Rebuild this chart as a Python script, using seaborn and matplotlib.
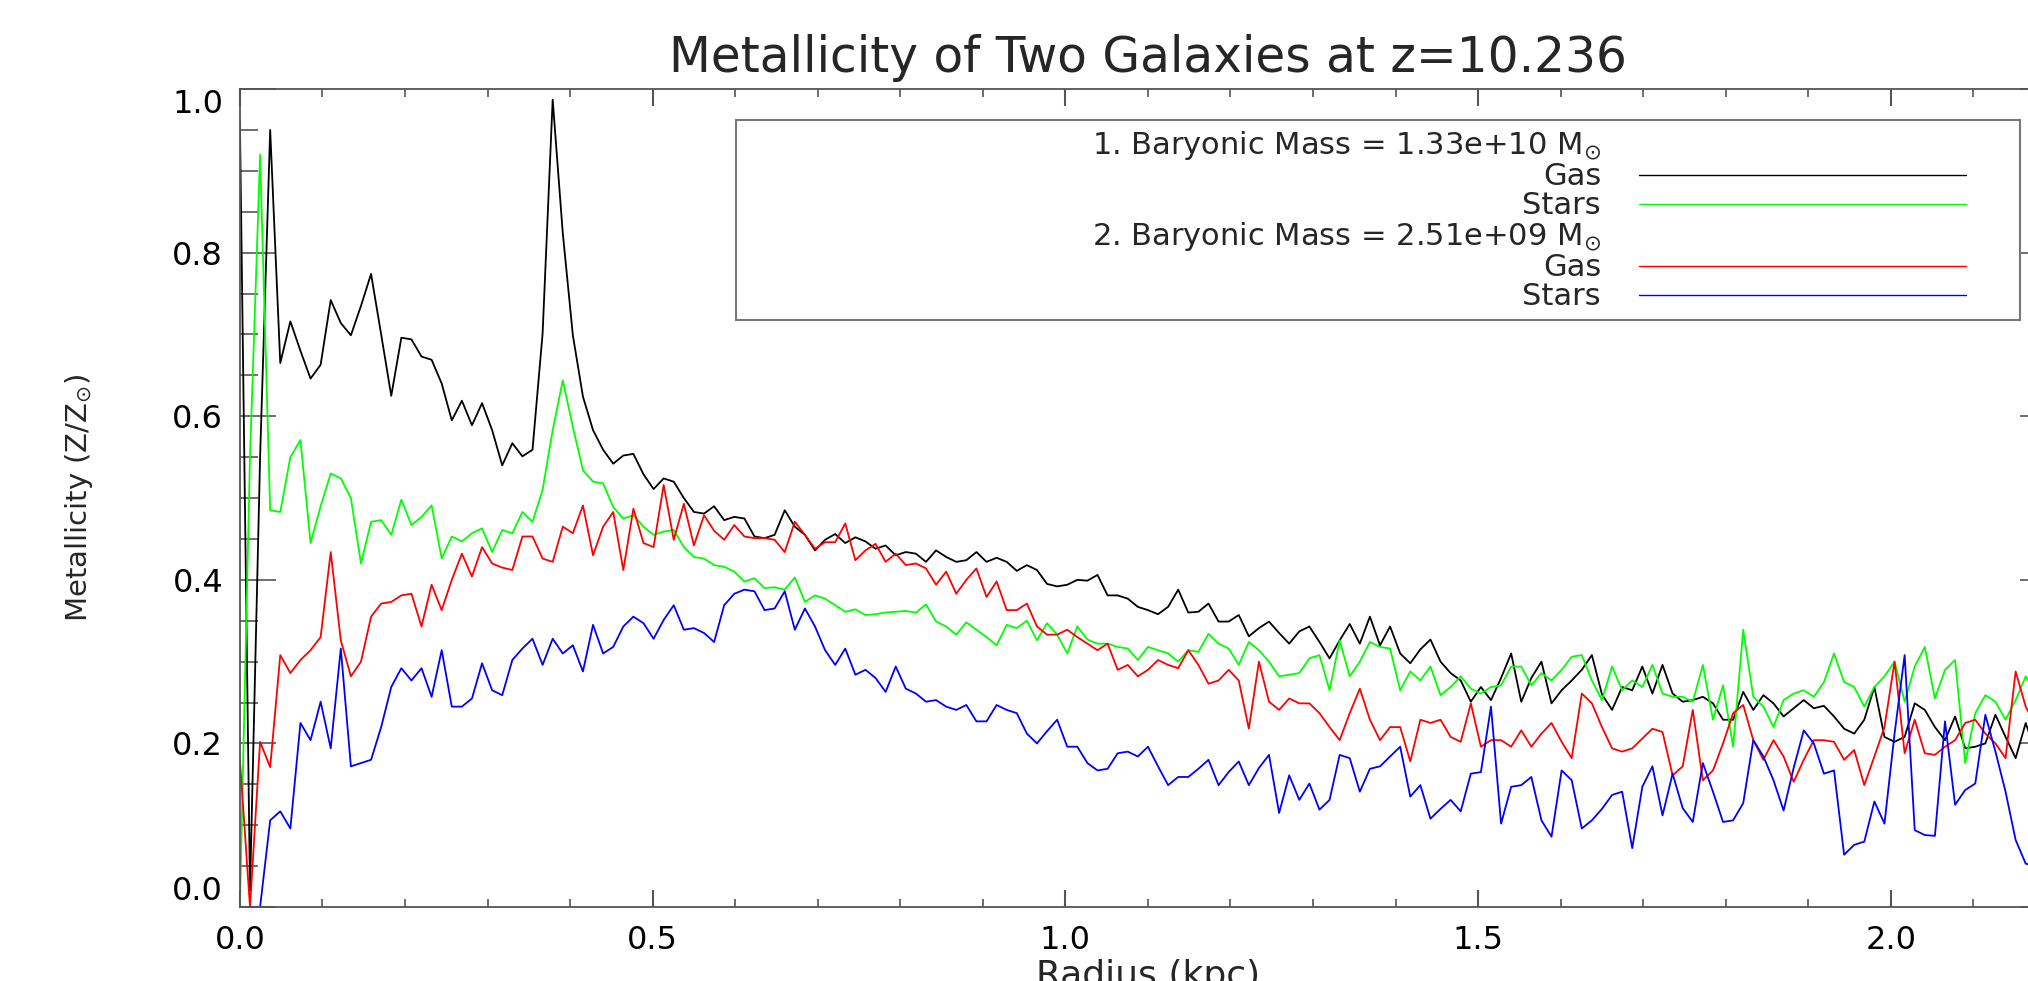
import numpy as np
import pandas as pd
import matplotlib
matplotlib.use("Agg")
import matplotlib.pyplot as plt
import seaborn as sns
from matplotlib.lines import Line2D
from matplotlib.legend_handler import HandlerLine2D
from matplotlib.ticker import FormatStrFormatter, MultipleLocator

# metallicity profiles (Z/Zsun) per radial bin
gas_1 = [
    0.96, 0.02, 0.55, 0.95, 0.665, 0.716, 0.68, 0.646, 0.663, 0.742,
    0.714, 0.699, 0.735, 0.774, 0.70, 0.625, 0.696, 0.694, 0.673, 0.669,
    0.64, 0.595, 0.619, 0.589, 0.616, 0.583, 0.540, 0.567, 0.551, 0.559,
    0.701, 0.987, 0.824, 0.699, 0.624, 0.583, 0.559, 0.542, 0.552, 0.554,
    0.529, 0.511, 0.524, 0.52, 0.50, 0.483, 0.481, 0.49, 0.473, 0.477,
    0.475, 0.453, 0.451, 0.455, 0.485, 0.465, 0.455, 0.436, 0.449, 0.456,
    0.445, 0.452, 0.447, 0.438, 0.442, 0.430, 0.434, 0.432, 0.422, 0.436,
    0.428, 0.422, 0.424, 0.434, 0.422, 0.427, 0.422, 0.411, 0.418, 0.412,
    0.395, 0.392, 0.394, 0.40, 0.399, 0.406, 0.381, 0.381, 0.377, 0.367,
    0.363, 0.358, 0.367, 0.388, 0.36, 0.361, 0.371, 0.349, 0.349, 0.357,
    0.331, 0.341, 0.349, 0.335, 0.322, 0.337, 0.343, 0.324, 0.304, 0.326,
    0.346, 0.322, 0.355, 0.32, 0.343, 0.31, 0.298, 0.315, 0.327, 0.30,
    0.286, 0.277, 0.251, 0.269, 0.253, 0.28, 0.31, 0.251, 0.28, 0.30,
    0.249, 0.265, 0.277, 0.29, 0.308, 0.26, 0.241, 0.269, 0.265, 0.294,
    0.261, 0.296, 0.261, 0.251, 0.253, 0.257, 0.249, 0.229, 0.229, 0.263,
    0.241, 0.259, 0.249, 0.233, 0.243, 0.253, 0.243, 0.246, 0.233, 0.218,
    0.212, 0.229, 0.269, 0.208, 0.202, 0.208, 0.249, 0.241, 0.22, 0.204,
    0.233, 0.194, 0.196, 0.20, 0.235, 0.208, 0.182, 0.225, 0.188,
]
stars_1 = [
    0.0, 0.55, 0.92, 0.485, 0.483, 0.55, 0.571, 0.445, 0.49, 0.53,
    0.524, 0.50, 0.42, 0.471, 0.473, 0.455, 0.498, 0.467, 0.477, 0.491,
    0.426, 0.453, 0.447, 0.457, 0.463, 0.434, 0.461, 0.457, 0.483, 0.471,
    0.51, 0.583, 0.644, 0.587, 0.534, 0.52, 0.518, 0.489, 0.475, 0.479,
    0.465, 0.455, 0.459, 0.461, 0.44, 0.428, 0.426, 0.418, 0.416, 0.41,
    0.398, 0.402, 0.39, 0.391, 0.388, 0.403, 0.373, 0.381, 0.377, 0.369,
    0.361, 0.364, 0.357, 0.358, 0.36, 0.361, 0.362, 0.36, 0.37, 0.349,
    0.343, 0.333, 0.348, 0.339, 0.33, 0.32, 0.345, 0.341, 0.35, 0.326,
    0.347, 0.333, 0.31, 0.343, 0.327, 0.322, 0.322, 0.318, 0.316, 0.302,
    0.318, 0.314, 0.31, 0.30, 0.314, 0.312, 0.334, 0.322, 0.316, 0.296,
    0.324, 0.314, 0.30, 0.282, 0.284, 0.286, 0.304, 0.308, 0.265, 0.326,
    0.282, 0.30, 0.324, 0.318, 0.316, 0.265, 0.288, 0.277, 0.294, 0.259,
    0.269, 0.282, 0.267, 0.261, 0.269, 0.271, 0.294, 0.294, 0.271, 0.286,
    0.277, 0.29, 0.306, 0.308, 0.277, 0.253, 0.294, 0.265, 0.277, 0.269,
    0.296, 0.261, 0.257, 0.257, 0.251, 0.296, 0.229, 0.271, 0.196, 0.339,
    0.257, 0.245, 0.22, 0.253, 0.261, 0.265, 0.257, 0.275, 0.31, 0.275,
    0.269, 0.245, 0.269, 0.282, 0.30, 0.251, 0.294, 0.318, 0.255, 0.29,
    0.302, 0.176, 0.237, 0.259, 0.251, 0.229, 0.253, 0.282, 0.26,
]
gas_2 = [
    0.18, 0.0, 0.202, 0.171, 0.308, 0.286, 0.302, 0.314, 0.33, 0.434,
    0.326, 0.282, 0.30, 0.355, 0.371, 0.373, 0.381, 0.383, 0.343, 0.394,
    0.363, 0.40, 0.432, 0.404, 0.44, 0.42, 0.415, 0.412, 0.453, 0.453,
    0.426, 0.422, 0.465, 0.457, 0.491, 0.43, 0.465, 0.483, 0.412, 0.487,
    0.445, 0.44, 0.516, 0.449, 0.493, 0.442, 0.479, 0.46, 0.449, 0.467,
    0.453, 0.451, 0.451, 0.449, 0.434, 0.471, 0.455, 0.438, 0.446, 0.446,
    0.469, 0.424, 0.436, 0.444, 0.422, 0.432, 0.418, 0.42, 0.414, 0.394,
    0.41, 0.383, 0.40, 0.414, 0.379, 0.398, 0.363, 0.363, 0.371, 0.343,
    0.333, 0.333, 0.339, 0.33, 0.322, 0.314, 0.322, 0.29, 0.296, 0.282,
    0.29, 0.302, 0.296, 0.292, 0.314, 0.296, 0.273, 0.277, 0.29, 0.277,
    0.218, 0.30, 0.251, 0.241, 0.255, 0.249, 0.249, 0.237, 0.22, 0.204,
    0.237, 0.267, 0.229, 0.204, 0.22, 0.22, 0.178, 0.229, 0.225, 0.229,
    0.208, 0.202, 0.249, 0.196, 0.204, 0.204, 0.196, 0.216, 0.196, 0.212,
    0.225, 0.202, 0.182, 0.261, 0.249, 0.22, 0.194, 0.19, 0.194, 0.206,
    0.218, 0.214, 0.161, 0.172, 0.241, 0.155, 0.167, 0.2, 0.237, 0.247,
    0.204, 0.18, 0.204, 0.184, 0.153, 0.18, 0.204, 0.204, 0.202, 0.18,
    0.192, 0.149, 0.184, 0.22, 0.30, 0.188, 0.229, 0.188, 0.186, 0.196,
    0.204, 0.225, 0.229, 0.212, 0.20, 0.182, 0.288, 0.245, 0.22,
]
stars_2 = [
    0.0, 0.0, 0.0, 0.106, 0.117, 0.096, 0.225, 0.204, 0.251, 0.194,
    0.316, 0.172, 0.176, 0.18, 0.22, 0.269, 0.292, 0.277, 0.292, 0.257,
    0.314, 0.245, 0.245, 0.255, 0.298, 0.265, 0.259, 0.302, 0.316, 0.328,
    0.296, 0.328, 0.31, 0.32, 0.288, 0.345, 0.31, 0.318, 0.343, 0.355,
    0.347, 0.328, 0.351, 0.369, 0.339, 0.341, 0.335, 0.324, 0.369, 0.383,
    0.388, 0.386, 0.363, 0.365, 0.386, 0.339, 0.365, 0.343, 0.314, 0.296,
    0.316, 0.284, 0.29, 0.28, 0.263, 0.294, 0.267, 0.261, 0.251, 0.253,
    0.245, 0.241, 0.247, 0.227, 0.227, 0.247, 0.241, 0.237, 0.212, 0.2,
    0.215, 0.229, 0.196, 0.196, 0.176, 0.167, 0.169, 0.188, 0.19, 0.184,
    0.196, 0.172, 0.149, 0.159, 0.159, 0.169, 0.18, 0.149, 0.165, 0.178,
    0.149, 0.17, 0.186, 0.115, 0.161, 0.131, 0.151, 0.119, 0.131, 0.186,
    0.182, 0.141, 0.169, 0.172, 0.184, 0.196, 0.135, 0.149, 0.108, 0.12,
    0.131, 0.117, 0.163, 0.165, 0.245, 0.102, 0.147, 0.149, 0.159, 0.106,
    0.086, 0.167, 0.155, 0.096, 0.106, 0.12, 0.137, 0.141, 0.072, 0.147,
    0.172, 0.112, 0.163, 0.121, 0.104, 0.176, 0.141, 0.104, 0.106, 0.127,
    0.204, 0.184, 0.155, 0.118, 0.17, 0.216, 0.2, 0.163, 0.167, 0.064,
    0.076, 0.08, 0.129, 0.102, 0.212, 0.308, 0.094, 0.088, 0.087, 0.227,
    0.125, 0.143, 0.151, 0.235, 0.19, 0.141, 0.082, 0.053, 0.05,
]

# radial bins are evenly spaced, 180 bins across 0-2.2 kpc
radius = np.linspace(0.0, 2.2, 181)[:len(gas_1)]

series = ["gas_1", "stars_1", "gas_2", "stars_2"]
palette = {"gas_1": "black", "stars_1": "#00ff00", "gas_2": "#ff0000", "stars_2": "#0000ff"}
header_1 = r"1. Baryonic Mass = 1.33e+10 M$_{\odot}$"
header_2 = r"2. Baryonic Mass = 2.51e+09 M$_{\odot}$"

frames = []
for name, values in zip(series, [gas_1, stars_1, gas_2, stars_2]):
    frames.append(pd.DataFrame({"radius": radius, "metallicity": values, "series": name}))
data = pd.concat(frames, ignore_index=True)

sns.set_theme(style="ticks")
plt.rcParams["font.family"] = ["DejaVu Sans"]
plt.rcParams["mathtext.fontset"] = "dejavusans"

fig = plt.figure(figsize=(20.28, 9.81), dpi=100)
ax = fig.add_axes([0.1183, 0.0754, 0.8955, 0.8338])

sns.lineplot(data=data, x="radius", y="metallicity", hue="series", hue_order=series,
             palette=palette, estimator=None, sort=False, legend=False,
             linewidth=1.3, ax=ax)

ax.set_xlim(0, 2.2)
ax.set_ylim(0, 1.0)
ax.set_xticks([0.0, 0.5, 1.0, 1.5, 2.0])
ax.set_yticks([0.0, 0.2, 0.4, 0.6, 0.8, 1.0])
ax.xaxis.set_minor_locator(MultipleLocator(0.1))
ax.yaxis.set_minor_locator(MultipleLocator(0.05))
ax.xaxis.set_major_formatter(FormatStrFormatter("%.1f"))
ax.yaxis.set_major_formatter(FormatStrFormatter("%.1f"))

ax.tick_params(which="both", direction="in", top=True, right=True,
               color="#555555", labelcolor="black")
ax.tick_params(axis="x", which="major", length=12, width=1.5, pad=13, labelsize=23)
ax.tick_params(axis="x", which="minor", length=6, width=1.2)
ax.tick_params(axis="y", which="major", length=26, width=1.2, pad=12, labelsize=23)
ax.tick_params(axis="y", which="minor", length=13, width=1.2)
for spine in ax.spines.values():
    spine.set_color("#555555")
    spine.set_linewidth(1.3)

# end labels sit inside the axis range, like the original
ylabels = ax.get_yticklabels()
ylabels[0].set_va("bottom")
ylabels[-1].set_va("top")

ax.set_xlabel("Radius (kpc)", fontsize=26)
ax.xaxis.set_label_coords(0.5, -0.063)
ax.set_ylabel(r"Metallicity (Z/Z$_{\odot}$)", fontsize=21, va="center")
ax.yaxis.set_label_coords(-0.0887, 0.5)

fig.text(0.5661, 0.9266, "Metallicity of Two Galaxies at z=10.236",
         ha="center", va="baseline", fontsize=35)

# legend: an empty first column pushes the labelled column to the right edge
lines = ax.get_lines()
blank = Line2D([], [], color="none")
handles = [blank] * 6 + [blank, lines[0], lines[1], blank, lines[2], lines[3]]
labels = [""] * 6 + [header_1, "Gas", "Stars", header_2, "Gas", "Stars"]

leg = ax.legend(handles, labels, ncols=2, mode="expand", loc="upper right",
                bbox_to_anchor=(0.2731, 0.5, 0.7071, 0.4621),
                bbox_transform=ax.transAxes, borderaxespad=0, markerfirst=False,
                fontsize=22, handlelength=12.17, handletextpad=1.243, labelspacing=0,
                borderpad=0.3, frameon=True, fancybox=False, framealpha=1,
                handler_map={Line2D: HandlerLine2D(numpoints=2, marker_pad=1.466, xpad=-1.466)})
leg.get_frame().set_edgecolor("#777777")
leg.get_frame().set_linewidth(1.5)
for line in leg.get_lines():
    line.set_linewidth(1.0)

fig.savefig("out.png", dpi=100)
